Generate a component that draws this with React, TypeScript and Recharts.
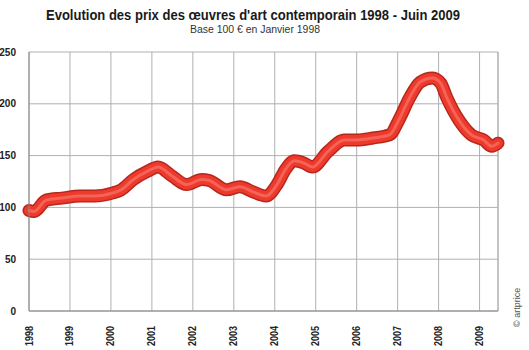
import { LineChart, Line, XAxis, YAxis, CartesianGrid, ReferenceLine } from 'recharts';

// Indice des prix, base 100 en janvier 1998
const periods = [
  1998.0, 1998.12, 1998.42, 1998.8, 1999.25, 1999.6, 2000.05, 2000.25, 2000.55, 2000.9,
  2001.15, 2001.5, 2001.85, 2002.22, 2002.4, 2002.82, 2003.15, 2003.47, 2003.78, 2004.07,
  2004.25, 2004.48, 2004.7, 2004.92, 2005.3, 2005.7, 2006.0, 2006.4, 2006.8, 2007.05,
  2007.28, 2007.55, 2007.85, 2008.05, 2008.2, 2008.5, 2008.8, 2009.1, 2009.3, 2009.45,
];
const indexValues = [
  97, 96, 107, 109, 111, 111, 114, 117, 127, 135,
  139, 130, 122, 127, 126, 117, 120, 115, 111, 123,
  136, 145, 143, 139, 154, 165, 165, 167, 170, 186,
  205, 221, 225, 220, 206, 184, 170, 165, 159, 162,
];
const yearTicks = [1998, 1999, 2000, 2001, 2002, 2003, 2004, 2005, 2006, 2007, 2008, 2009];
const valueTicks = [0, 50, 100, 150, 200, 250];
const lastPeriod = 2009.45;

const data = periods.map((t, i) => ({ t, v: indexValues[i] }));

const font = "'Liberation Sans', Arial, sans-serif";

const YearTick = ({ x, y, payload }: any) => (
  <text
    transform={`translate(${x},${y + 7}) rotate(-90)`}
    textAnchor="end"
    dominantBaseline="central"
    fontSize={10}
    fontWeight={700}
    fontFamily={font}
    fill="#222"
    textLength={20}
    lengthAdjust="spacingAndGlyphs"
  >
    {payload.value}
  </text>
);

export default function App() {
  return (
    <div style={{ position: 'absolute', left: 0, top: 0, width: 529, height: 350, background: '#fff' }}>
      <svg width={529} height={40} style={{ position: 'absolute', left: 0, top: 0 }}>
        <text
          x={46}
          y={20}
          fontFamily={font}
          fontWeight={700}
          fontSize={15}
          fill="#1a1a1a"
          textLength={414}
          lengthAdjust="spacingAndGlyphs"
        >
          Evolution des prix des œuvres d'art contemporain 1998 - Juin 2009
        </text>
        <text
          x={190}
          y={33}
          fontFamily={font}
          fontSize={10}
          fill="#333"
          textLength={130}
          lengthAdjust="spacingAndGlyphs"
        >
          Base 100 € en Janvier 1998
        </text>
      </svg>
      <LineChart
        width={529}
        height={350}
        data={data}
        margin={{ top: 52, right: 31, bottom: 9, left: 0 }}
        style={{ position: 'absolute', left: 0, top: 0 }}
      >
        <CartesianGrid stroke="#b0b0b0" strokeWidth={1} />
        <XAxis
          dataKey="t"
          type="number"
          domain={[1998, lastPeriod]}
          ticks={yearTicks}
          tick={<YearTick />}
          tickLine={false}
          axisLine={{ stroke: '#888' }}
          height={30}
          interval={0}
        />
        <YAxis
          type="number"
          domain={[0, 250]}
          ticks={valueTicks}
          width={29}
          tickLine={false}
          axisLine={{ stroke: '#888' }}
          tickMargin={7}
          tick={{ fontSize: 10, fontWeight: 700, fill: '#222', fontFamily: font }}
        />
        <ReferenceLine x={lastPeriod} stroke="#b0b0b0" />
        <Line
          dataKey="v"
          type="monotone"
          stroke="#b8261c"
          strokeWidth={13}
          dot={false}
          strokeLinecap="round"
          strokeLinejoin="round"
          isAnimationActive={false}
        />
        <Line
          dataKey="v"
          type="monotone"
          stroke="#ee3a2d"
          strokeWidth={10}
          dot={false}
          strokeLinecap="round"
          strokeLinejoin="round"
          isAnimationActive={false}
        />
        <Line
          dataKey="v"
          type="monotone"
          stroke="#f36457"
          strokeWidth={3}
          dot={false}
          strokeLinecap="round"
          strokeLinejoin="round"
          isAnimationActive={false}
        />
      </LineChart>
      <div
        style={{
          position: 'absolute', left: 512, top: 327, transform: 'rotate(-90deg)', transformOrigin: '0 0',
          fontFamily: font, fontSize: 9, color: '#555', whiteSpace: 'nowrap',
        }}
      >
        © artprice
      </div>
    </div>
  );
}
